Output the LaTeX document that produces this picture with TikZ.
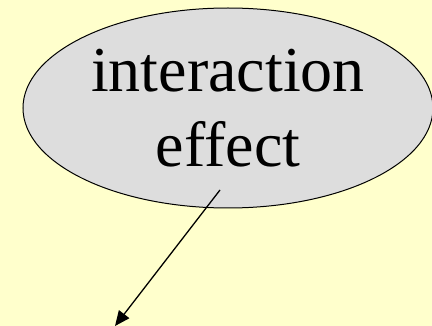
\documentclass[tikz,border=0pt]{standalone}
\usepackage{fontspec}
\setmainfont{Liberation Serif}
\usepackage{tikz}
\usetikzlibrary{arrows.meta, positioning, calc, shapes.geometric}
\usepackage{xcolor}
\definecolor{paper}{RGB}{255,255,204}
\definecolor{bubble}{RGB}{221,221,221}

\begin{document}
\begin{tikzpicture}[x=1pt, y=-1pt, every node/.style={font=\fontsize{64}{75}\selectfont}]
  \fill[paper] (0,0) rectangle (432,326);
  \useasboundingbox (0,0) rectangle (432,326);

  \node[draw, ellipse, fill=bubble, line width=1pt, minimum width=410pt, minimum height=200pt, inner sep=0pt, align=center] (effect) at (228, 108) {interaction\\effect};

  \coordinate (tail) at (220, 190);
  \coordinate (tip) at (115, 326);
  \draw[line width=1.3pt, -{Triangle[length=15pt, width=13pt]}] (tail) -- (tip);
\end{tikzpicture}
\end{document}
